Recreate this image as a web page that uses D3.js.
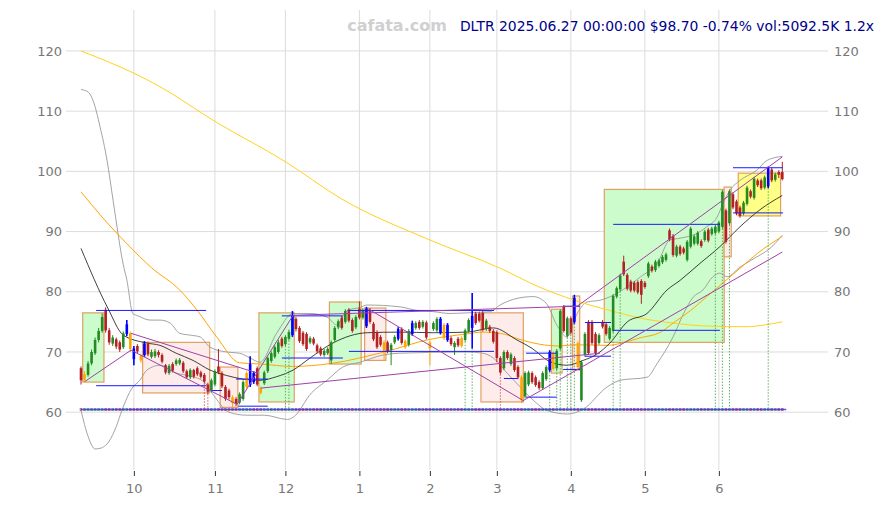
<!DOCTYPE html>
<html><head><meta charset="utf-8">
<script src="https://cdn.jsdelivr.net/npm/d3@7"></script>
<style>body{margin:0;background:#fff;}svg{display:block;font-family:"DejaVu Sans",sans-serif;}</style>
</head><body><svg id="c" width="884" height="505"></svg>
<script>
// ---------- data ----------
const startDate = "2024-09-10", endDate = "2025-06-27";
const holidays = ["2024-11-28","2024-12-25","2025-01-01","2025-01-09","2025-01-20","2025-02-17","2025-04-18","2025-05-26","2025-06-19"];
const yTicks = [60,70,80,90,100,110,120];
const opens = [67.3,65.4,66.2,68.1,69.8,72.0,73.5,77.0,73.6,71.4,72.1,71.6,70.8,73.0,73.1,70.6,71.0,69.4,69.5,71.4,
69.2,69.3,70.0,69.5,67.8,66.5,68.0,68.0,68.1,68.2,66.8,65.8,67.0,67.3,66.6,66.2,64.6,63.6,64.6,67.6,
66.5,64.2,63.6,62.5,62.2,61.6,62.2,64.2,64.5,66.5,67.3,64.0,64.8,66.8,68.5,69.2,70.0,72.2,71.3,72.2,
72.8,75.5,74.0,73.2,73.0,71.6,72.2,71.1,70.6,69.5,69.8,68.6,72.0,74.1,75.7,75.0,77.0,75.3,74.1,77.2,
75.7,77.2,77.0,74.7,73.3,72.5,71.6,71.6,70.3,71.6,72.2,73.8,71.8,71.2,73.0,74.0,75.0,74.2,74.9,71.6,
73.8,73.6,75.5,74.5,74.5,72.3,70.8,72.2,72.3,72.0,73.5,74.0,76.4,76.4,76.5,73.8,74.2,73.5,73.3,69.0,
67.3,70.0,68.0,69.0,67.5,65.8,62.6,64.6,66.5,65.8,65.0,64.0,65.5,67.0,69.8,67.3,70.6,77.5,72.7,75.6,
75.0,71.5,62.0,69.5,75.0,75.0,73.0,71.5,75.0,74.6,72.2,73.5,79.2,80.4,85.0,82.8,81.7,81.5,81.6,81.8,
81.5,82.6,84.2,83.6,84.3,84.9,85.3,90.2,89.3,86.0,87.5,87.2,85.3,87.5,88.0,88.0,88.4,88.6,90.3,89.6,
89.8,90.0,90.8,93.5,91.4,96.2,95.0,94.0,93.0,94.6,96.7,95.6,98.5,98.5,97.3,97.5,100.3,98.6,99.9,99.9];
const highs = [67.6,66.8,68.5,70.4,72.4,74.0,76.4,77.4,74.0,72.8,72.4,71.9,73.4,75.3,73.4,71.0,71.3,69.7,71.8,71.7,
70.4,70.5,70.3,69.8,68.0,68.0,68.3,68.9,69.0,68.5,67.1,67.3,67.2,67.6,66.9,66.5,64.9,65.6,67.1,70.5,
66.8,64.5,63.9,62.8,62.5,63.3,65.3,66.8,69.3,66.8,67.6,64.3,66.9,69.3,70.1,71.1,72.0,72.5,72.8,73.7,
76.8,75.8,74.3,73.5,73.3,72.6,72.5,71.4,70.9,70.5,70.8,71.9,74.3,75.4,76.0,77.1,77.3,75.6,76.1,78.4,
77.3,77.5,77.3,75.0,73.6,72.8,71.9,71.9,71.5,72.8,74.1,74.1,72.1,73.8,75.2,75.1,75.3,75.3,75.2,71.9,
75.1,75.8,75.8,74.8,74.8,72.6,71.8,72.5,72.6,73.9,75.6,79.8,76.7,76.7,76.8,75.5,74.5,73.8,73.6,69.3,
70.3,70.3,69.9,69.3,67.8,66.1,66.8,66.9,66.8,66.1,65.3,66.8,67.8,70.3,70.1,70.5,77.1,77.8,75.9,75.9,
79.5,71.8,68.6,73.3,75.3,75.3,73.3,73.1,75.3,74.9,74.3,79.6,80.9,83.0,86.0,83.1,82.0,81.8,81.9,82.1,
81.8,85.0,84.5,85.3,85.5,86.1,86.5,90.5,89.6,87.8,87.8,87.5,88.6,90.8,89.5,90.1,88.7,90.3,90.6,90.8,
91.1,91.8,96.9,93.8,97.0,96.5,95.3,94.3,95.1,97.6,97.0,99.1,98.8,98.8,99.3,100.8,100.6,99.8,100.2,101.6];
const lows = [64.6,65.0,65.9,67.8,69.5,71.6,73.2,73.2,71.2,71.0,70.5,70.0,70.5,72.6,70.0,67.8,69.8,68.2,69.2,69.3,
68.9,69.0,69.1,68.1,66.3,66.2,66.6,67.7,67.8,66.5,65.5,65.5,65.6,66.0,65.6,64.8,63.0,63.3,64.3,66.3,
64.0,61.9,62.1,60.8,61.0,61.3,61.9,63.9,64.2,64.7,64.3,62.9,64.5,66.5,68.2,68.9,69.7,70.7,71.0,71.9,
72.5,73.4,71.5,71.0,70.2,71.3,71.1,69.8,69.3,69.2,69.5,68.0,71.7,73.8,73.7,74.7,74.9,73.2,73.8,75.4,
75.4,74.0,74.7,71.8,70.5,70.9,68.5,69.8,67.8,71.3,71.9,71.2,70.5,70.9,72.7,73.7,73.7,73.9,72.1,67.8,
73.5,73.3,72.9,72.0,71.7,71.0,69.5,70.8,70.7,71.7,73.2,70.6,74.5,74.9,73.4,73.5,73.2,71.4,68.3,66.3,
67.0,68.7,67.7,66.7,65.5,61.5,62.3,64.3,64.7,64.2,63.7,63.7,65.2,66.7,66.9,67.0,70.3,73.2,72.4,72.9,
74.7,67.2,61.7,69.2,69.5,71.2,69.5,71.2,73.9,72.7,71.9,73.2,78.9,80.1,82.6,80.2,79.9,79.9,79.6,78.0,
80.5,82.3,83.2,83.3,84.0,84.6,85.0,88.4,85.8,85.7,86.0,86.2,85.0,87.2,87.7,87.7,87.3,88.3,88.2,89.3,
89.5,89.7,90.5,88.0,91.1,93.7,92.7,92.3,92.7,94.3,95.5,95.3,97.4,96.9,97.0,97.2,98.2,98.3,98.9,98.5];
const closes = [65.3,66.3,68.1,70.0,72.0,73.5,75.8,73.6,71.6,72.4,70.9,70.4,73.1,74.6,70.5,68.8,70.1,68.6,71.4,69.6,
70.0,70.1,69.5,68.4,66.6,67.7,66.9,68.6,68.7,66.8,65.8,67.0,65.9,66.3,65.9,65.1,63.4,65.3,66.8,66.6,
64.3,62.2,62.5,61.5,61.4,63.0,65.0,66.5,68.0,65.0,64.6,63.2,66.6,69.0,69.8,70.8,71.6,71.0,72.5,73.3,
76.0,73.8,71.8,71.3,70.5,72.3,71.4,70.1,69.6,70.2,70.5,71.6,74.0,75.1,74.0,76.8,75.2,73.5,75.8,75.7,
77.0,74.3,75.0,72.1,70.8,71.2,70.2,70.1,71.2,72.5,73.8,71.5,70.8,73.5,74.8,74.8,74.0,75.0,72.4,70.6,
74.8,75.5,73.2,72.3,72.0,71.3,71.5,71.1,71.0,73.6,75.3,76.0,74.8,75.2,73.7,75.2,73.5,71.7,69.0,66.6,
70.0,69.0,69.6,67.0,65.8,62.0,66.5,66.6,65.0,64.5,64.0,66.5,67.5,70.0,67.2,70.2,76.8,73.5,75.6,73.2,
79.0,67.5,68.3,73.0,69.8,71.5,69.8,72.8,74.2,73.0,74.0,79.3,80.6,82.7,82.9,80.5,80.2,80.2,79.9,79.5,
80.8,84.7,83.5,85.0,85.2,85.8,86.2,88.7,86.1,87.5,86.3,86.5,88.3,90.5,89.2,89.8,87.6,90.0,88.5,90.5,
90.8,91.5,96.6,88.3,96.7,94.0,93.0,92.6,94.8,97.3,95.8,98.8,97.7,97.2,99.0,100.5,98.5,99.5,99.44,98.7];
const blueBars = [13,15,18,48,49,60,81,90,94,102,104,111,133,140,195];
const orangeBars = [1,14,17,43,47,51,86,92,99,103,108,125,134,141];
// moving averages / bands: [dayIndex, price]
const maLong = [[0,120],[15,116.3],[22,114.2],[38,108.3],[58,101.6],[74,95.4],[99,88.6],[119,83.9],[130,80.8],[140,78.6],[150,76.9],[159,75.6],[168,74.8],[178,74.3],[189,74.2],[194,74.5],[199,75]];
const maMid = [[0,96.6],[6,92.4],[13,88],[20,84],[28,80.3],[33,76.9],[38.5,72.5],[45,68.2],[51,68],[60,67.6],[71,68.1],[86,70],[99,72.1],[109.5,73],[114,73.3],[119,73.1],[125,72],[130,71.3],[136,71],[140,71.2],[149,71.1],[159,72.4],[164.5,73.3],[168,74.8],[173,76.9],[177.6,79.2],[182,81.4],[187,83.9],[192,86.4],[199,89.2]];
const maShort = [[0,87.2],[7.6,77.3],[12,72.8],[18.6,71.5],[22.4,71.1],[27,69.8],[31.8,68.6],[36.6,67],[41.3,66.1],[46,65.5],[50.8,65.3],[55.5,65.9],[60.2,67],[65,69],[71.5,71.5],[81.2,73.2],[90.5,73.3],[100,73.2],[109.5,73.3],[117,74],[123.7,72],[128,70.6],[133,68.4],[137.9,67.8],[142.5,68.6],[146.3,69.6],[150.1,71.5],[155,75],[160.6,76.4],[166.3,80.3],[170,81.9],[175.6,84.7],[181.3,87.5],[187,90.8],[192.6,93.6],[199,96]];
const bandUp = [[0,113.6],[2,113.2],[3.4,111.8],[5.4,107.4],[7.4,101.8],[9.1,95.2],[12,84.5],[13,82],[14.7,76.4],[16.2,76],[19.6,75.3],[22.4,75.3],[25.3,74.8],[28,73.1],[31,72.8],[33.8,72.5],[36.6,70.8],[41.3,70],[45,69.8],[48,69],[50.8,68.3],[55.5,73.1],[60.2,76.4],[65,76.4],[69.8,75.8],[72.6,74.5],[75.5,76.9],[79.2,77.4],[81.2,77.8],[90.5,77.5],[95.3,76.9],[100,76.7],[104.7,76.4],[109.5,76.5],[116,76.7],[118.9,77.8],[123.7,78.9],[128.3,79.2],[132,78.1],[135,74.5],[137.9,72.5],[140.8,76.4],[143.6,78.3],[147.3,78.6],[155,80.8],[158.8,82.5],[163.5,84.7],[167.1,88.6],[170,88.9],[174.8,89.7],[177.6,90.8],[180.5,92.4],[182.2,94.7],[184.2,96.9],[187,98.5],[191.8,100.2],[194.6,101.8],[199,102.5]];
const bandLow = [[0,60.3],[2,56],[4,53.9],[5.4,54],[8,55.2],[10,57.6],[11.6,60.3],[14.5,64],[16.7,65.3],[18.7,67],[22.4,67.8],[27,66.5],[31,66],[35,65],[38,62.5],[42,60],[47,59.5],[52,59.5],[58.6,58.8],[60.3,59.2],[65.4,63.2],[69.8,65.3],[74.3,67.5],[79.2,68.3],[85.7,69.5],[90.5,69.8],[109.5,70],[114,69.8],[117,69],[120.9,66.5],[124.6,64.2],[128.3,62],[132.2,60.3],[138,59.7],[142.5,60.5],[149.3,64.2],[153,65.3],[160.6,65.8],[163.5,68.1],[168,72.5],[171,76.4],[173.7,79.1],[176.5,80.3],[179.3,82.5],[181.3,83.1],[183.3,82.5],[187,84.1],[191.8,85.8],[195.5,87.2],[199,89.4]];
// boxes: [fromIdx, toIdx, low, high, kind]
const boxes = [[1,6,65,76.5,"up"],[18,36,63.2,71.6,"down"],[40,44,60.8,67.5,"down"],[51,60,61.7,76.5,"up"],[71,79,68,78.3,"up"],[81,86,68.6,77.3,"down"],[114,125,61.7,76.5,"down"],[134,136,66.5,77.1,"up"],[140,141,67,79.3,"down"],[149,182,71.6,97,"up"],[183,184,85.8,97.4,"down"],[187,198,92.6,99.7,"hold"]];
// support / resistance segments: [fromIdx, toIdx, price]
const levels = [[4.3,35.5,76.9],[4.3,35.5,64.4],[37.2,40,63.6],[44,53,65.5],[44.6,53,61.0],[57,74.3,76.0],[57,74.3,69.0],[76,117.2,76.9],[76,117.2,70.1],[120,124,65.6],[126.3,135,69.8],[126.3,135,62.5],[136.8,141.6,77.6],[136.8,141.6,67.1],[143,150.4,74.9],[143,150.4,69.3],[151,181.3,91.2],[151,181.3,73.6],[185,199.2,100.6],[185,199.2,93.1]];
// trend lines: [idx1, price1, idx2, price2]
const trends = [[1.1,65.1,14.2,70.3],[14.2,73.1,50,66.5],[14.2,70.3,44.3,61.3],[44.3,61.3,60.2,76.1],[60.2,76.1,140.8,77.6],[81.1,77.3,125.3,62],[125.1,61.8,199,86.6],[140.8,77.6,199,102.4],[51,64.0,147.3,69.8]];
const buySignals = [58,59,109,111,133,135,136,138,139,140,151,153,180,182,184,195];
const sellSignals = [35,36,119];
const baseLevel = 60.45;
const title = "DLTR 2025.06.27 00:00:00 $98.70 -0.74% vol:5092.5K 1.2x";
const watermark = "cafata.com";

// ---------- build ----------
const hol = new Set(holidays);
const dates = [];
for (let d = new Date(startDate + "T12:00:00Z"); d <= new Date(endDate + "T12:00:00Z"); d = new Date(d.getTime() + 864e5)) {
  const wd = d.getUTCDay(), s = d.toISOString().slice(0,10);
  if (wd !== 0 && wd !== 6 && !hol.has(s)) dates.push(s);
}
const svg = d3.select("#c");
const L = 66, R = 828, T = 10, B = 470;
const x = d3.scaleLinear().domain([0, dates.length - 1]).range([81, 782.3]);
const y = d3.scaleLinear().domain([50.4, 126.8]).range([B, T]);
const bw = 2.6;

// month ticks
const monthIdx = [];
dates.forEach((s, i) => { if (i > 0 && s.slice(5,7) !== dates[i-1].slice(5,7)) monthIdx.push(i); });

const g = svg.append("g");
// grid
g.selectAll(".hg").data(yTicks).join("line")
  .attr("x1", L).attr("x2", R).attr("y1", d => y(d)).attr("y2", d => y(d))
  .attr("stroke", "#dcdcdc").attr("stroke-width", 1);
g.selectAll(".vg").data(monthIdx).join("line")
  .attr("x1", d => x(d)).attr("x2", d => x(d)).attr("y1", T).attr("y2", B)
  .attr("stroke", "#dcdcdc").attr("stroke-width", 1);
// axes labels
const yAxisR = d3.axisRight(y).tickValues(yTicks).tickSize(0).tickPadding(6);
const yAxisL = d3.axisLeft(y).tickValues(yTicks).tickSize(0).tickPadding(4);
const ar = svg.append("g").attr("transform", `translate(${R},0)`).call(yAxisR);
const al = svg.append("g").attr("transform", `translate(${L},0)`).call(yAxisL);
const xAxis = d3.axisBottom(x).tickValues(monthIdx).tickFormat(i => String(+dates[i].slice(5,7))).tickSize(5).tickPadding(8);
const ax = svg.append("g").attr("transform", `translate(0,${B+1})`).call(xAxis);
[ar, al, ax].forEach(a => {
  a.select(".domain").remove();
  a.selectAll("text").attr("fill", "#777").style("font-size", "13px").style("font-family", "DejaVu Sans");
  a.selectAll("line").attr("stroke", "#333");
});

// watermark + title
svg.append("text").attr("x", 397).attr("y", 31).attr("text-anchor", "middle")
  .attr("fill", "#d0d0d0").style("font-weight", "bold").style("font-size", "16px").text(watermark);
svg.append("text").attr("x", 874).attr("y", 31).attr("text-anchor", "end")
  .attr("fill", "#00008b").style("font-size", "13.9px").text(title);

// boxes
const boxFill = {up: "#ccfccc", down: "#fdecea", hold: "#ffff88"};
g.selectAll(".box").data(boxes).join("rect")
  .attr("x", d => x(d[0]) - bw/2 - 0.5).attr("width", d => x(d[1]) - x(d[0]) + bw + 1)
  .attr("y", d => y(d[3])).attr("height", d => y(d[2]) - y(d[3]))
  .attr("fill", d => boxFill[d[4]]).attr("stroke", "#e0a060").attr("stroke-width", 1.2);

// indicator lines
const line = d3.line().x(d => x(d[0])).y(d => y(d[1])).curve(d3.curveMonotoneX);
[[bandUp, "#999", 0.9], [bandLow, "#999", 0.9], [maLong, "#ffd21a", 1], [maMid, "#ffa500", 1], [maShort, "#111", 0.8]]
  .forEach(([data, col, w]) => g.append("path").attr("d", line(data)).attr("fill", "none").attr("stroke", col).attr("stroke-width", w));

// signal dotted lines
g.selectAll(".sig").data(buySignals.map(i => [i, "#3aa03a"]).concat(sellSignals.map(i => [i, "#d04040"]))).join("line")
  .attr("x1", d => x(d[0])).attr("x2", d => x(d[0]))
  .attr("y1", d => y(lows[d[0]])).attr("y2", y(baseLevel))
  .attr("stroke", d => d[1]).attr("stroke-width", 0.8).attr("stroke-dasharray", "1.5,1.5");

// candles
const blueSet = new Set(blueBars), orangeSet = new Set(orangeBars);
const col = i => blueSet.has(i) ? "#0000ff" : orangeSet.has(i) ? "#ffa500" : (closes[i] >= opens[i] ? "#228b22" : "#b22222");
const idx = d3.range(dates.length);
g.selectAll(".wick").data(idx).join("line")
  .attr("x1", i => x(i)).attr("x2", i => x(i)).attr("y1", i => y(highs[i])).attr("y2", i => y(lows[i]))
  .attr("stroke", col).attr("stroke-width", i => blueSet.has(i) ? 1.6 : 1);
g.selectAll(".body").data(idx).join("rect")
  .attr("x", i => x(i) - bw/2).attr("width", bw)
  .attr("y", i => y(Math.max(opens[i], closes[i])))
  .attr("height", i => Math.max(1, Math.abs(y(opens[i]) - y(closes[i]))))
  .attr("fill", col);

// levels
g.selectAll(".lvl").data(levels).join("line")
  .attr("x1", d => x(d[0])).attr("x2", d => x(d[1])).attr("y1", d => y(d[2])).attr("y2", d => y(d[2]))
  .attr("stroke", "#1a1aff").attr("stroke-width", 1);
// trend lines
g.selectAll(".tr").data(trends).join("line")
  .attr("x1", d => x(d[0])).attr("y1", d => y(d[1])).attr("x2", d => x(d[2])).attr("y2", d => y(d[3]))
  .attr("stroke", "#a040a8").attr("stroke-width", 1);

// volume strip
g.selectAll(".vol").data(idx).join("rect")
  .attr("x", i => x(i) - bw/2).attr("width", bw)
  .attr("y", y(baseLevel) - 1.5).attr("height", 3)
  .attr("fill", i => closes[i] >= opens[i] ? "#5a9a5a" : "#c05050").attr("opacity", 0.8);
g.append("line").attr("x1", x(0)).attr("x2", x(dates.length - 1) + 4)
  .attr("y1", y(baseLevel)).attr("y2", y(baseLevel)).attr("stroke", "#3030ff").attr("stroke-width", 1.5).attr("opacity", 0.8);
</script></body></html>
